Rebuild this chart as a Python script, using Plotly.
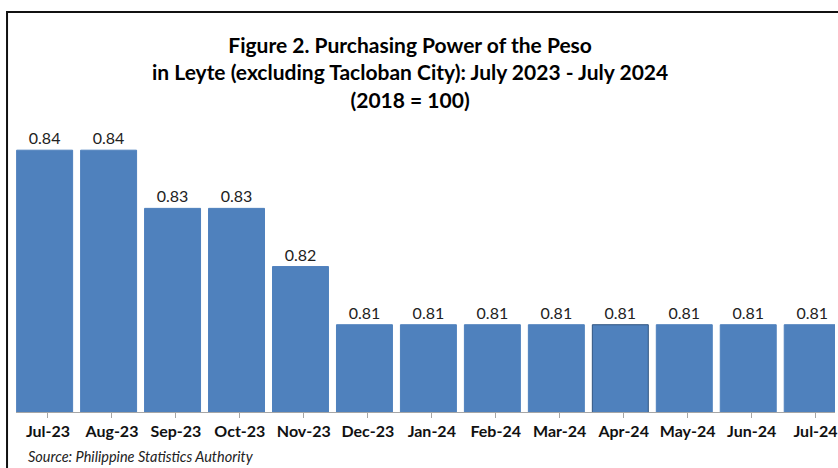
import plotly.graph_objects as go

months = ["Jul-23", "Aug-23", "Sep-23", "Oct-23", "Nov-23", "Dec-23", "Jan-24",
          "Feb-24", "Mar-24", "Apr-24", "May-24", "Jun-24", "Jul-24"]
ppp = [0.84, 0.84, 0.83, 0.83, 0.82, 0.81, 0.81, 0.81, 0.81, 0.81, 0.81, 0.81, 0.81]
value_labels = ["0.84", "0.84", "0.83", "0.83", "0.82", "0.81", "0.81",
                "0.81", "0.81", "0.81", "0.81", "0.81", "0.81"]

title_lines = ["Figure 2. Purchasing Power of the Peso",
               "in Leyte (excluding Tacloban City): July 2023 - July 2024",
               "(2018 = 100)"]
source_text = "Source: Philippine Statistics Authority"

W, H = 838, 468
L, R, T, B = 16, 0, 92, 56
pw, ph = W - L - R, H - T - B

FONT = "Lato"
BAR = "#4F81BD"

def px(x):
    return (x - L) / pw

def py(y):
    return (H - B - y) / ph

line_colors = [BAR] * len(months)
line_colors[9] = "#2F5480"

fig = go.Figure(go.Bar(
    x=list(range(len(months))), y=ppp,
    text=value_labels, textposition="outside", cliponaxis=False,
    textfont=dict(family=FONT, size=16, color="#222222"),
    marker=dict(color=BAR, line=dict(color=line_colors, width=1)),
    width=0.875, offset=-0.49,
    hoverinfo="skip",
))

fig.update_layout(
    width=W, height=H,
    margin=dict(l=L, r=R, t=T, b=B),
    paper_bgcolor="white", plot_bgcolor="white",
    showlegend=False,
    xaxis=dict(
        tickmode="array", tickvals=list(range(len(months))), ticktext=months,
        range=[-0.5, -0.5 + pw / 64.2],
        showline=True, linecolor="#A6A6A6", linewidth=1,
        ticks="outside", tickson="boundaries", ticklen=5, tickcolor="#A6A6A6",
        tickfont=dict(family=FONT, size=16, color="#111111", weight="bold"),
        ticklabeloverflow="allow",
        showgrid=False, zeroline=False, fixedrange=True,
    ),
    yaxis=dict(range=[0.795, 0.85], visible=False, fixedrange=True),
    font=dict(family=FONT),
)

fig.add_annotation(
    xref="paper", yref="paper", x=px(411), y=py(72), xanchor="center", yanchor="middle",
    text="<br>".join(title_lines), showarrow=False, align="center",
    font=dict(family=FONT, size=21, color="#000000", weight="bold"),
)
fig.add_annotation(
    xref="paper", yref="paper", x=px(26), y=py(456), xanchor="left", yanchor="middle",
    text="<i>" + source_text + "</i>", showarrow=False, align="left",
    font=dict(family=FONT, size=14.5, color="#222222"),
)

fig.add_shape(type="rect", xref="paper", yref="paper",
              x0=px(7), x1=px(860), y0=py(12), y1=py(500),
              line=dict(color="#111111", width=2), fillcolor="rgba(0,0,0,0)", layer="above")

fig.write_html("out.html", config={"displayModeBar": False, "staticPlot": True},
               post_script="document.body.style.margin='0px';document.body.style.overflow='hidden';")
